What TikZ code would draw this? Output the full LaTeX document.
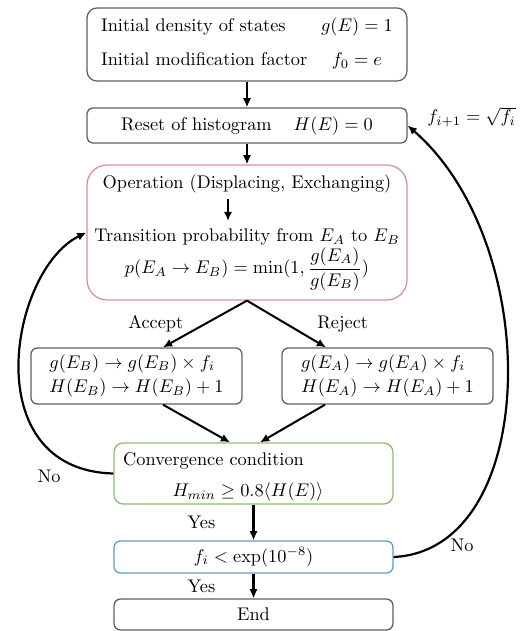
\documentclass[tikz,border=0pt]{standalone}
\usepackage{amsmath,amssymb}
\usetikzlibrary{positioning,arrows.meta,calc}

\definecolor{oppink}{RGB}{214,140,180}
\definecolor{convgreen}{RGB}{140,190,105}
\definecolor{chkblue}{RGB}{90,160,190}
\definecolor{boxgray}{RGB}{95,95,95}

\begin{document}
\begin{tikzpicture}[x=0.546pt, y=-0.546pt,
  box/.style={draw=boxgray, line width=0.7pt, rounded corners=4pt, inner sep=2pt},
  topbox/.style={box, minimum width=174.7pt},
  sidebox/.style={box, minimum width=115.2pt, minimum height=30.6pt,
    align=left, rounded corners=3.5pt},
  lowbox/.style={box, minimum width=152.3pt},
  txt/.style={inner sep=1pt},
  arr/.style={-{Latex[length=5pt, width=4.5pt]}, line width=1.1pt},
  backarr/.style={arr, line width=1.2pt}
]
\useasboundingbox (0,0) rectangle (523,631);

% Initialisation
\node[topbox, minimum height=39.9pt, rounded corners=5.5pt] (init) at (247,44.5)
  {\begin{tabular}{@{}l@{\hspace{7.5pt}}c@{}}
    Initial density of states & $g(E)=1$\\[6.5pt]
    Initial modification factor & $f_0=e$
  \end{tabular}};

% Histogram reset
\node[topbox, minimum height=19.1pt, rounded corners=3pt] (reset) at (247,125.5)
  {Reset of histogram\hspace{12pt}$H(E)=0$};
\draw[arr] (init) -- (reset);

% Operation block
\node[topbox, draw=oppink, minimum height=73.7pt, rounded corners=11pt] (op) at (247,232.5) {};
\node[txt] (oper) at (247,184) {Operation (Displacing, Exchanging)};
\node[txt] (trans) at (247,237) {Transition probability from $E_A$ to $E_B$};
\node[txt] (prob) at (247,269)
  {$p(E_A\rightarrow E_B)=\min(1,\dfrac{g(E_A)}{g(E_B)})$};
\draw[arr, line width=0.9pt, shorten <=2pt, shorten >=3pt]
  ($(oper.south)+(-19,0)$) -- ($(trans.north)+(-19,0)$);
\draw[arr] (reset) -- (op);

% Accept / Reject
\node[sidebox] (acc) at (136.5,376)
  {$g(E_B)\rightarrow g(E_B)\times f_i$\\[1.5pt]$H(E_B)\rightarrow H(E_B)+1$};
\node[sidebox] (rej) at (387.5,376)
  {$g(E_A)\rightarrow g(E_A)\times f_i$\\[1.5pt]$H(E_A)\rightarrow H(E_A)+1$};
\draw[arr] (op.south) -- node[midway, left=8pt] {Accept} ($(acc.north)+(26.5,0)$);
\draw[arr] (op.south) -- node[midway, right=13pt] {Reject} ($(rej.north)+(-61.5,0)$);

% Convergence check
\node[lowbox, draw=convgreen, minimum height=33.3pt, rounded corners=5pt] (conv) at (253.5,473.5) {};
\node[txt, anchor=west] (convtxt) at (121,461) {Convergence condition};
\node[txt] (convf) at (248,492) {$H_{min}\geq 0.8\langle H(E)\rangle$};
\draw[arr] ($(acc.south)+(26.5,0)$) -- ($(conv.north)+(-23.5,0)$);
\draw[arr] ($(rej.south)+(-62.5,0)$) -- ($(conv.north)+(6.5,0)$);

% Modification factor check
\node[lowbox, draw=chkblue, minimum height=17.5pt, rounded corners=3.5pt] (fchk) at (253.5,557)
  {$f_i<\exp(10^{-8})$};
\node[lowbox, minimum height=16.9pt, rounded corners=3.5pt] (stop) at (253.5,614.5) {End};
\draw[arr] (conv) -- node[midway, left=17pt] {Yes} (fchk);
\draw[arr] (fchk) -- node[midway, left=17pt] {Yes} (stop);

% Feedback loops
\draw[backarr] (conv.west) .. controls (-25,470) and (10,270) .. (op.west);
\node[txt] (nconv) at (49,476) {No};
\draw[backarr] (fchk.east) .. controls (540,550) and (545,245) .. (reset.east);
\node[txt] (nchk) at (462,545) {No};
\node[txt, anchor=east] (upd) at (518,117) {$f_{i+1}=\sqrt{f_i}$};

\end{tikzpicture}
\end{document}
